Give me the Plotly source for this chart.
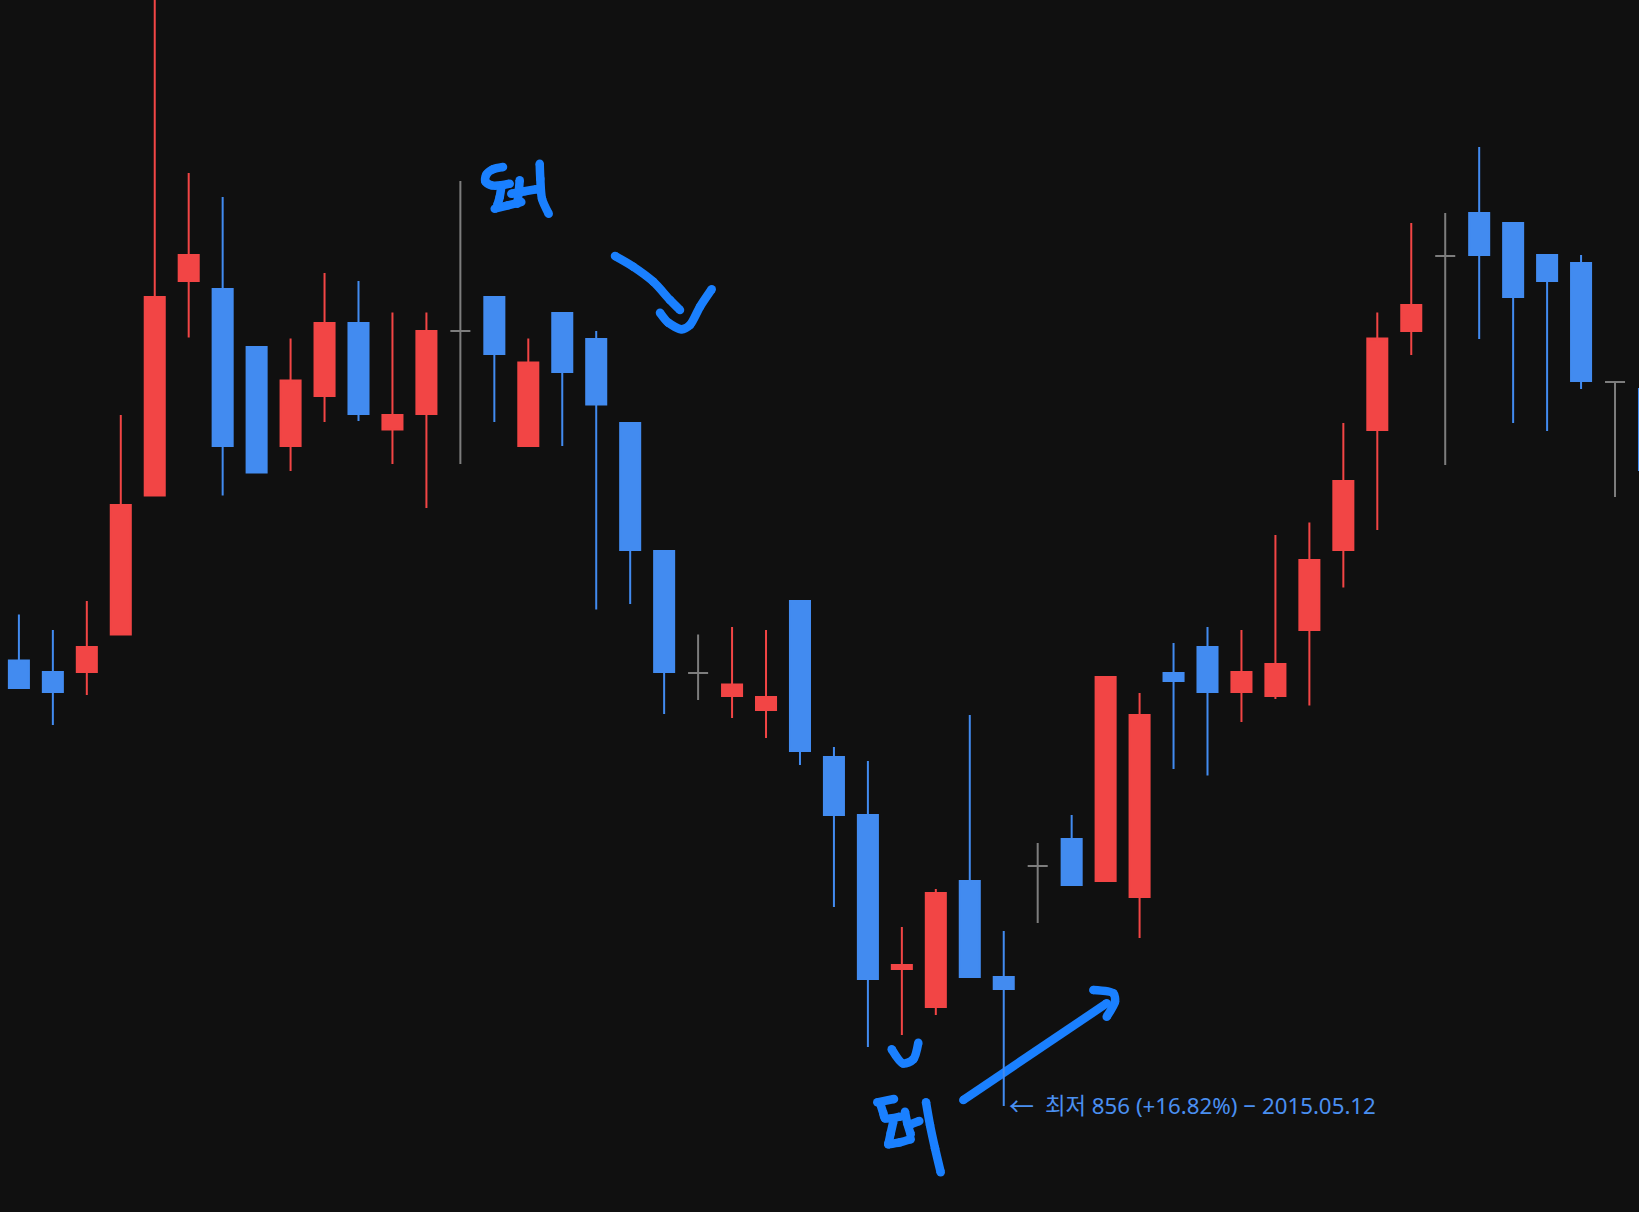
import plotly.graph_objects as go

# ---------------- data (prices) ----------------
idx = list(range(49))
open_ = [945.1, 942.8, 942.8, 950.3, 978.1, 1021.0, 1019.4, 1007.8, 988.0, 998.0,
         1012.6, 991.3, 994.4, 1011.0, 1017.8, 988.0, 1014.6, 1009.4, 992.6, 967.0,
         942.6, 938.0, 935.2, 957.0, 925.8, 914.2, 883.4, 875.8, 901.0, 881.8,
         904.0, 909.4, 901.0, 897.8, 942.6, 947.8, 938.8, 938.0, 951.2, 967.2,
         991.2, 1011.0, 1026.0, 1034.6, 1032.6, 1026.2, 1024.6, 1000.8, 999.4]
high = [954.3, 951.2, 957.0, 994.2, 1081.2, 1042.6, 1037.8, 1007.8, 1009.5, 1022.6,
        1021.0, 1014.7, 1014.7, 1041.0, 1017.8, 1009.5, 1014.7, 1011.0, 992.6, 967.0,
        950.3, 951.8, 951.2, 957.0, 927.8, 925.0, 891.8, 899.4, 934.2, 891.0,
        908.6, 914.2, 941.8, 938.6, 948.6, 951.8, 951.2, 970.2, 972.7, 992.6,
        1014.7, 1032.6, 1034.6, 1047.8, 1032.6, 1026.2, 1026.2, 1000.8, 999.4]
low = [939.6, 932.2, 938.2, 950.3, 978.1, 1009.7, 978.1, 982.7, 983.0, 992.8,
       993.0, 984.4, 975.6, 984.4, 992.8, 988.0, 988.0, 955.3, 956.4, 934.4,
       937.2, 933.6, 929.6, 924.2, 895.8, 867.8, 870.2, 874.2, 881.8, 856.0,
       892.6, 900.2, 901.0, 889.6, 923.4, 922.1, 932.8, 937.4, 936.1, 959.7,
       971.2, 1006.2, 984.2, 1009.4, 992.6, 991.0, 999.4, 977.8, 977.2]
close = [939.6, 938.8, 947.8, 976.2, 1017.8, 1026.2, 988.0, 982.7, 1001.1, 1012.6,
         994.4, 994.2, 1011.0, 1011.0, 1006.4, 1004.7, 1002.8, 996.3, 967.2, 942.8,
         942.6, 940.3, 937.8, 927.0, 914.2, 881.4, 884.2, 898.6, 881.8, 879.4,
         904.0, 900.2, 941.8, 934.2, 941.0, 938.8, 942.8, 944.4, 965.2, 981.0,
         1009.5, 1016.2, 1026.0, 1026.2, 1017.8, 1021.0, 1001.0, 1000.8, 983.2]

LOW_INDEX = 29
LOW_ARROW = "←"
LOW_LABEL = "최저 856 (+16.82%) − 2015.05.12"

# ---------------- styles ----------------
BG = "#101010"
RED = "#f24545"
BLUE = "#428bf0"
GRAY = "#7d7d7d"
PEN = "#1a80ff"
TXT = "#4a8ff0"
W, H = 1639, 1212

# hand-drawn pen strokes (page pixel coordinates)
strokes = [
    # top "돼"
    [(503, 167), (493, 169.3), (486.3, 174.7), (485.3, 181.3), (491.3, 185.3), (501.3, 185.3), (509.7, 183.7)],
    [(501.3, 187), (499.7, 197), (497.3, 205.3)],
    [(494.7, 208.7), (508, 205.3), (521.3, 202)],
    [(519.7, 180.3), (518.7, 192), (517.3, 203.7)],
    [(511.3, 193.7), (524.7, 191.3), (536.3, 189.3)],
    [(539.7, 163.7), (540.3, 178.7), (542, 198.7), (548.7, 213.7)],
    # top arrow / check
    [(615, 256), (633.3, 266.7), (653.3, 281.7), (670, 300), (680, 310)],
    [(660, 312.7), (668.3, 322.7), (681.7, 329.3), (690, 325), (700, 306.7), (711.7, 289.3)],
    # small check near the low
    [(918.3, 1042.7), (913.3, 1059.3), (903, 1063.5), (891.7, 1049.3)],
    # bottom "돼"
    [(877.3, 1102.3), (894, 1099)],
    [(880.7, 1105), (883.3, 1113.3), (885, 1118.3), (900, 1116.7)],
    [(893.3, 1121.7), (890.7, 1133.3), (888.3, 1144.3)],
    [(888.3, 1144.3), (900, 1142.3), (910.7, 1139.3)],
    [(905, 1111.7), (907.3, 1123.3), (910.7, 1134.3)],
    [(910.7, 1124.3), (919.3, 1121)],
    [(926, 1102.3), (930, 1125), (935, 1148.3), (940.7, 1172.3)],
    # bottom arrow
    [(963.3, 1100), (1106.7, 1003.3)],
    [(1093.3, 990), (1113.3, 993.3), (1115, 1001.7), (1106.7, 1016.7)],
]

fig = go.Figure()

for s in strokes:
    fig.add_trace(go.Scatter(
        x=[p[0] for p in s], y=[p[1] for p in s],
        mode="lines+markers",
        line=dict(color=PEN, width=8.5, shape="spline", smoothing=0.8),
        marker=dict(color=PEN, size=8.5),
        xaxis="x", yaxis="y", hoverinfo="skip", showlegend=False))

groups = [
    ([i for i in idx if close[i] > open_[i]], RED),
    ([i for i in idx if close[i] < open_[i]], BLUE),
    ([i for i in idx if close[i] == open_[i]], GRAY),
]
for sel, col in groups:
    fig.add_trace(go.Candlestick(
        x=[idx[i] for i in sel],
        open=[open_[i] for i in sel], high=[high[i] for i in sel],
        low=[low[i] for i in sel], close=[close[i] for i in sel],
        increasing=dict(line=dict(color=col, width=2), fillcolor=col),
        decreasing=dict(line=dict(color=col, width=2), fillcolor=col),
        xaxis="x2", yaxis="y2", showlegend=False, hoverinfo="skip"))

fig.add_annotation(
    x=idx[LOW_INDEX], y=low[LOW_INDEX], xref="x2", yref="y2",
    text=LOW_ARROW, showarrow=False, xanchor="left", yanchor="middle", xshift=3, yshift=1,
    font=dict(family="Noto Sans CJK KR", size=25, color=TXT))
fig.add_annotation(
    x=idx[LOW_INDEX], y=low[LOW_INDEX], xref="x2", yref="y2",
    text=LOW_LABEL, showarrow=False, xanchor="left", yanchor="middle", xshift=39, yshift=1,
    font=dict(family="Noto Sans, Noto Sans CJK KR", size=22.3, color=TXT))

fig.update_layout(
    width=W, height=H,
    margin=dict(l=0, r=0, t=0, b=0, pad=0),
    paper_bgcolor=BG, plot_bgcolor=BG,
    showlegend=False,
    boxgap=0.41, boxgroupgap=0,
    xaxis=dict(range=[0, W], visible=False, fixedrange=True),
    yaxis=dict(range=[H, 0], visible=False, fixedrange=True),
    xaxis2=dict(range=[-0.5565, 47.706], overlaying="x", anchor="y2", visible=False,
                rangeslider=dict(visible=False), fixedrange=True),
    yaxis2=dict(range=[834.8, 1077.2], overlaying="y", anchor="x2", visible=False, fixedrange=True),
)

fig.write_html("out.html", config={"displayModeBar": False},
               post_script="document.body.style.margin='0';document.body.style.background='#101010';document.body.style.overflow='hidden';")
